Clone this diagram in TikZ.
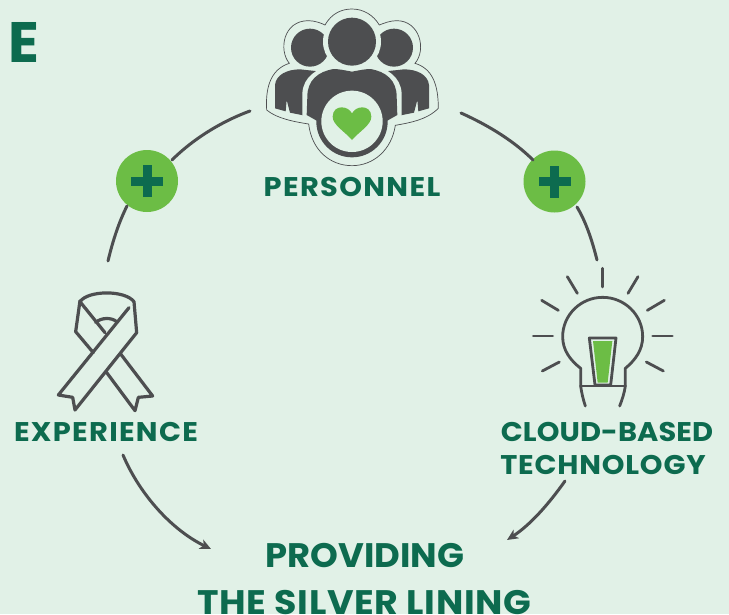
\documentclass[tikz,border=0pt]{standalone}
\usepackage{fontspec}
\setmainfont{Poppins}
\usetikzlibrary{arrows.meta}
\definecolor{bgc}{HTML}{E1F1E7}
\definecolor{dgreen}{HTML}{0D6B4F}
\definecolor{lgreen}{HTML}{6CBD45}
\definecolor{greyc}{HTML}{4D4E50}
\newcommand{\track}[2]{\addfontfeature{FakeStretch=#1,LetterSpace=#2}}
\tikzset{
  lab/.style={text=dgreen,font=\bfseries\fontsize{27}{27}\selectfont,inner sep=0pt,anchor=base},
  big/.style={text=dgreen,font=\bfseries\fontsize{34}{34}\selectfont,inner sep=0pt,anchor=base},
  conn/.style={draw=greyc,line width=3pt,line cap=round},
  plusdisc/.style={circle,fill=lgreen,minimum size=62pt,inner sep=0pt},
  iconline/.style={draw=greyc,line cap=round,line join=round},
  zoomed/.style={x=0.33333pt,y=-0.33333pt},
  tip/.style={-{Stealth[length=11pt,width=10pt,inset=3pt]}},
}
\begin{document}
\begin{tikzpicture}[x=1pt,y=-1pt]
\useasboundingbox (0,0) rectangle (729,614);
\fill[bgc] (0,0) rectangle (729,614);
\node[text=dgreen,font=\bfseries\fontsize{57}{57}\selectfont,anchor=base east,inner sep=0pt] (corner) at (40,62) {E};
\node[big] (prov) at (365,567) {\track{1.04}{0}PROVIDING};
\node[big] (silver) at (364.5,614) {\track{1.07}{1.9}THE SILVER LINING};
\node[lab] (pers) at (352,196) {\track{1.07}{5}PERSONNEL};
\node[lab] (exp) at (106,441) {\track{1.07}{4.8}EXPERIENCE};
\node[lab] (cloud) at (607,441) {\track{1.07}{0.3}CLOUD-BASED};
\node[lab] (tech) at (603,474) {\track{1.07}{3}TECHNOLOGY};
\node[plusdisc] (pl) at (147,181) {};
\node[plusdisc] (pr) at (554.5,181.5) {};
\foreach \c in {pl,pr}{
  \fill[dgreen] ([xshift=-16pt,yshift=-4.5pt]\c.center) rectangle ([xshift=16pt,yshift=4.5pt]\c.center);
  \fill[dgreen] ([xshift=-4.5pt,yshift=-16pt]\c.center) rectangle ([xshift=4.5pt,yshift=16pt]\c.center);
}
\coordinate (a1) at (250,111);
\coordinate (a2) at (108,261);
\coordinate (b1) at (461,113);
\coordinate (b2) at (597,260);
\coordinate (c1) at (123,455);
\coordinate (c2) at (211,549);
\coordinate (d1) at (565,481);
\coordinate (d2) at (507,540);
\draw[conn] (a1) .. controls (220,122) and (192,140) .. (172,160);
\draw[conn] (127,206) .. controls (119,222) and (113,240) .. (a2);
\draw[conn] (b1) .. controls (490,126) and (515,142) .. (533,160);
\draw[conn] (577,207) .. controls (586,222) and (592,240) .. (b2);
\draw[conn,tip] (c1) .. controls (140,495) and (172,530) .. (c2);
\draw[conn,tip] (d1) .. controls (548,505) and (530,525) .. (d2);
% People icon
\begin{scope}[shift={(250,0)},zoomed]
\draw[greyc,line width=.7pt,fill=bgc] (118,190)
  .. controls (85,150) and (100,62) .. (175,62)
  .. controls (195,62) and (215,70) .. (225,75)
  .. controls (245,40) and (275,27) .. (306,27)
  .. controls (340,27) and (370,45) .. (388,75)
  .. controls (400,70) and (420,62) .. (440,62)
  .. controls (510,62) and (530,150) .. (495,190)
  .. controls (545,205) and (565,250) .. (565,325)
  .. controls (530,360) and (480,368) .. (436,376)
  .. controls (425,450) and (370,497) .. (306,497)
  .. controls (240,497) and (185,450) .. (176,372)
  .. controls (130,365) and (80,355) .. (50,330)
  .. controls (45,250) and (70,205) .. (118,190) -- cycle;
\fill[greyc] (75,325) -- (75,255) .. controls (78,225) and (110,208) .. (150,208)
  -- (215,215) -- (180,345) -- (155,345) -- (120,338) -- (110,300) -- (107,334) -- cycle;
\fill[greyc] (537,325) -- (537,255) .. controls (534,225) and (502,208) .. (462,208)
  -- (397,215) -- (432,345) -- (457,345) -- (492,338) -- (502,300) -- (505,334) -- cycle;
\fill[greyc] (180,143) circle (57);
\fill[greyc] (432,143) circle (57);
\fill[bgc] (306,125) circle (87);
\fill[bgc] (157,345) -- (157,280) .. controls (160,230) and (200,205) .. (250,193) -- (362,193)
  .. controls (412,205) and (452,230) .. (455,280) -- (455,345) -- (420,370) -- (192,370) -- cycle;
\fill[greyc] (306,125) circle (72);
\fill[greyc] (306,215) .. controls (280,210) and (265,207) .. (250,207)
  .. controls (205,215) and (172,240) .. (172,290) -- (170,345) -- (200,362) -- (412,362)
  -- (442,345) -- (440,290) .. controls (440,240) and (407,215) .. (362,207)
  .. controls (347,207) and (332,210) .. (306,215) -- cycle;
\fill[greyc] (306,365) circle (107);
\fill[bgc] (306,364) circle (92);
\fill[lgreen] (306,420) .. controls (285,395) and (248,375) .. (248,350)
  .. controls (248,330) and (262,322) .. (275,322)
  .. controls (290,322) and (300,330) .. (306,340)
  .. controls (312,330) and (322,322) .. (337,322)
  .. controls (350,322) and (364,330) .. (364,350)
  .. controls (364,375) and (327,395) .. (306,420) -- cycle;
\end{scope}
% Ribbon icon
\begin{scope}[shift={(30,280)},zoomed,iconline,line width=3.2pt]
\draw (150,65) .. controls (175,30) and (285,30) .. (312,65);
\draw (150,62) -- (137,155) -- (190,218);
\draw (150,65) -- (225,158);
\draw (297,83) -- (85,345) -- (128,352) -- (135,390) -- (320,158) -- (312,65);
\draw (272,222) -- (368,348) -- (325,352) -- (315,392) -- (228,275);
\draw (197,127) .. controls (215,112) and (245,112) .. (260,125);
\end{scope}
% Bulb icon
\begin{scope}[shift={(520,260)},zoomed,iconline,line width=2.8pt]
\draw (182,378) -- (182,325) .. controls (150,300) and (128,270) .. (128,230)
  .. controls (128,165) and (182,112) .. (248,112)
  .. controls (314,112) and (368,165) .. (368,230)
  .. controls (368,270) and (346,300) .. (316,325) -- (316,378);
\draw (182,378) -- (316,378);
\draw (182,378) .. controls (185,400) and (190,420) .. (196,438);
\draw (316,378) .. controls (313,400) and (306,420) .. (299,438);
\draw (208,234) -- (288,234) -- (272,375) -- (225,375) -- cycle;
\fill[lgreen] (219,243) -- (277,243) -- (263,368) -- (233,368) -- cycle;
\foreach \xa/\ya/\xb/\yb in {248/25/248/81,142/50/172/100,354/50/324/100,65/121/115/151,433/121/382/151,40/228/98/228,398/228/457/228,67/333/118/306,430/333/379/306}{
  \draw (\xa,\ya) -- (\xb,\yb);
}
\end{scope}
\end{tikzpicture}
\end{document}
